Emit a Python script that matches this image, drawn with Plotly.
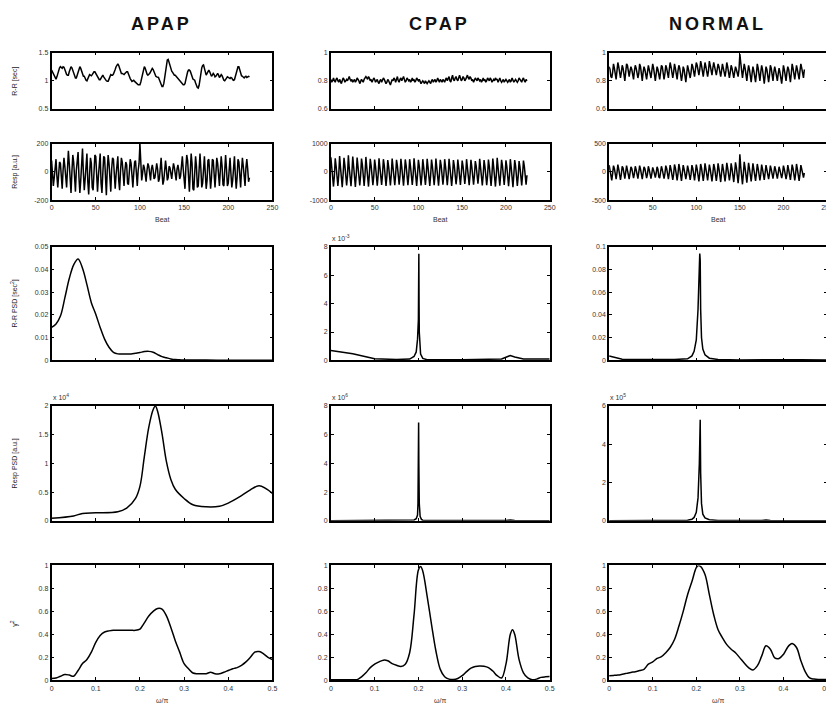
import plotly.graph_objects as go

# page body has an 8px margin, so the figure is placed 8px in from the window corner
OFF = 8
W, H = 834 - OFF, 709 - OFF

# ---------------- data ----------------
BEATS = list(range(225))

APAP_RR = [
1.19,1.16,1.12,1.08,1.05,1.03,1.07,1.13,1.19,1.23,
1.25,1.24,1.22,1.25,1.24,1.20,1.15,1.11,1.10,1.10,
1.16,1.22,1.25,1.23,1.18,1.12,1.07,1.05,1.05,1.10,
1.17,1.23,1.25,1.22,1.16,1.10,1.08,1.08,1.04,1.01,
1.00,1.04,1.09,1.11,1.10,1.09,1.11,1.14,1.16,1.16,
1.13,1.09,1.06,1.03,1.02,1.02,1.05,1.09,1.10,1.07,
1.04,1.01,1.00,0.99,0.99,1.03,1.08,1.11,1.10,1.10,
1.12,1.15,1.20,1.25,1.29,1.30,1.27,1.22,1.16,1.13,
1.13,1.12,1.11,1.13,1.15,1.16,1.16,1.13,1.08,1.04,
1.01,0.99,1.00,1.01,0.99,0.97,0.95,0.94,0.93,0.93,
0.93,0.98,1.06,1.15,1.22,1.25,1.22,1.16,1.12,1.10,
1.11,1.13,1.16,1.20,1.22,1.20,1.15,1.11,1.08,1.07,
1.07,1.06,1.02,0.97,0.93,0.90,0.90,0.95,1.05,1.18,
1.30,1.37,1.38,1.33,1.25,1.20,1.17,1.15,1.12,1.10,
1.10,1.08,1.06,1.04,1.03,1.02,1.00,0.97,0.95,0.93,
0.93,0.95,1.02,1.10,1.16,1.19,1.19,1.17,1.12,1.07,
1.03,1.02,1.01,0.96,0.91,0.88,0.87,0.92,1.02,1.14,
1.23,1.27,1.28,1.22,1.14,1.10,1.13,1.17,1.19,1.16,
1.11,1.08,1.10,1.13,1.11,1.07,1.08,1.12,1.13,1.10,
1.06,1.08,1.11,1.09,1.04,1.01,1.00,1.02,1.05,1.07,
1.06,1.05,1.04,1.06,1.05,1.02,1.01,1.02,1.07,1.14,
1.21,1.25,1.25,1.20,1.13,1.09,1.08,1.06,1.05,1.07,
1.08,1.06,1.07,1.08,1.07]

APAP_RESP = [
80,-20,-100,-40,60,90,-30,-110,-20,70,
60,-60,-120,10,100,40,-80,-110,20,150,
60,-90,-150,0,120,70,-70,-140,10,110,
140,-40,-150,-60,90,165,-10,-130,-50,80,
130,-70,-160,-20,100,60,-110,-130,30,120,
110,-50,-140,-30,90,130,-80,-150,-10,110,
100,-90,-165,10,120,60,-100,-140,20,100,
90,-70,-120,-20,80,110,-60,-130,0,100,
70,-60,-100,10,70,50,-80,-90,20,90,
60,-50,-110,-10,70,80,-40,-100,10,60,
200,40,-60,-10,50,30,-50,-70,10,60,
40,-40,-60,20,50,10,-50,-40,30,60,
20,-70,-50,60,100,0,-90,-60,40,80,
20,-60,-40,40,30,-20,-50,10,60,30,
-40,-60,20,50,10,-50,-30,40,110,20,
-90,-120,30,120,80,-100,-140,0,130,60,
-120,-130,40,110,40,-110,-100,60,130,20,
-110,-80,70,110,-10,-120,-60,80,90,-30,
-120,-40,90,80,-50,-110,-10,100,60,-60,
-100,10,110,40,-90,-100,30,120,20,-100,
-80,50,100,-10,-110,-60,80,110,-20,-120,
-40,90,70,-60,-110,10,100,40,-80,-100,
30,90,20,-70,-40]

CPAP_RR = [
.81,.79,.80,.82,.80,.79,.81,.82,.80,.79,
.81,.80,.78,.80,.82,.81,.79,.80,.81,.80,
.82,.83,.81,.80,.81,.79,.80,.81,.79,.80,
.82,.81,.80,.78,.79,.81,.80,.79,.81,.82,
.83,.82,.81,.83,.82,.80,.81,.79,.80,.82,
.81,.79,.80,.81,.79,.78,.80,.81,.79,.80,
.82,.81,.79,.78,.79,.81,.80,.79,.77,.79,
.81,.80,.82,.81,.79,.81,.83,.80,.79,.81,
.82,.80,.81,.83,.81,.79,.80,.82,.81,.80,
.81,.79,.80,.82,.80,.81,.79,.80,.82,.81,
.80,.81,.79,.78,.79,.80,.79,.78,.80,.79,
.78,.79,.80,.79,.78,.80,.81,.79,.80,.81,
.79,.80,.82,.80,.79,.81,.80,.79,.81,.80,
.79,.81,.82,.80,.81,.83,.80,.79,.82,.84,
.81,.80,.82,.83,.81,.80,.82,.84,.82,.80,
.81,.83,.82,.80,.81,.83,.84,.82,.81,.83,
.82,.80,.81,.79,.80,.82,.81,.80,.82,.81,
.80,.81,.79,.80,.82,.80,.81,.79,.80,.82,
.81,.80,.82,.81,.79,.80,.81,.80,.82,.81,
.81,.79,.80,.82,.80,.79,.80,.81,.79,.80,
.81,.80,.79,.80,.81,.79,.80,.82,.81,.79,
.80,.81,.80,.79,.80,.82,.81,.80,.79,.81,
.82,.80,.79,.81,.80]

CPAP_RESP = [
520,180,-380,-520,-150,480,210,-350,-500,-120,
560,160,-400,-540,-90,500,230,-330,-480,-140,
590,140,-420,-510,-60,540,200,-360,-530,-110,
510,190,-380,-480,-130,470,250,-340,-500,-100,
530,170,-390,-520,-80,460,220,-310,-470,-150,
440,200,-350,-490,-120,480,170,-370,-460,-90,
450,230,-320,-500,-140,420,190,-360,-480,-110,
470,160,-340,-470,-100,430,210,-300,-450,-130,
460,180,-370,-490,-80,440,220,-330,-470,-120,
450,190,-350,-460,-110,480,160,-360,-500,-90,
430,210,-320,-480,-140,450,180,-340,-460,-100,
460,170,-360,-500,-120,440,200,-330,-470,-110,
470,150,-350,-490,-90,430,230,-310,-450,-130,
450,190,-340,-470,-100,460,170,-370,-500,-120,
420,210,-300,-440,-150,440,180,-330,-460,-80,
400,200,-280,-430,-100,450,150,-340,-470,-110,
430,180,-310,-450,-130,380,210,-290,-420,-90,
460,160,-330,-480,-120,420,190,-310,-470,-140,
440,200,-350,-500,-100,470,170,-360,-520,-120,
500,150,-340,-490,-80,430,220,-300,-460,-110,
410,190,-360,-510,-130,450,160,-380,-540,-100,
420,210,-330,-500,-150,380,180,-350,-480,-90,
400,200,-320,-450,-120]

NORMAL_RR = [
.90,.88,.83,.82,.86,.92,.89,.84,.81,.87,
.93,.90,.84,.82,.86,.91,.89,.83,.80,.86,
.92,.91,.85,.83,.87,.90,.88,.82,.81,.87,
.91,.89,.84,.82,.85,.92,.90,.83,.80,.86,
.90,.88,.83,.81,.86,.91,.88,.84,.82,.87,
.92,.89,.83,.80,.85,.90,.88,.82,.81,.86,
.91,.90,.84,.81,.85,.91,.89,.83,.82,.88,
.93,.90,.85,.82,.86,.92,.89,.84,.81,.87,
.91,.89,.83,.80,.84,.90,.88,.82,.79,.85,
.91,.88,.84,.82,.86,.92,.90,.85,.83,.88,
.93,.91,.86,.84,.88,.94,.91,.86,.83,.88,
.93,.90,.85,.83,.87,.94,.91,.86,.84,.89,
.93,.90,.86,.84,.88,.92,.90,.85,.83,.87,
.92,.89,.85,.83,.87,.93,.90,.84,.82,.86,
.91,.89,.84,.82,.86,.90,.88,.84,.83,.88,
.99,.93,.86,.82,.87,.92,.89,.83,.80,.86,
.91,.88,.82,.79,.85,.90,.87,.81,.79,.85,
.92,.89,.83,.80,.86,.91,.88,.82,.78,.84,
.90,.88,.82,.79,.84,.91,.89,.83,.80,.86,
.90,.87,.82,.80,.85,.89,.86,.81,.78,.84,
.91,.88,.83,.80,.86,.90,.88,.82,.79,.85,
.92,.89,.83,.81,.86,.91,.88,.83,.81,.87,
.92,.89,.84,.82,.88]

NORMAL_RESP = [
120,40,-110,-150,-30,110,60,-100,-130,-20,
130,50,-90,-140,-40,100,70,-80,-120,-10,
110,30,-100,-130,-20,90,60,-90,-110,-30,
100,40,-80,-120,-10,110,50,-100,-130,-20,
90,60,-90,-110,-40,100,40,-80,-120,-30,
80,30,-70,-100,-20,90,50,-90,-110,-10,
100,40,-80,-120,-30,110,60,-100,-130,-20,
120,50,-90,-140,-40,130,70,-110,-150,-30,
140,60,-100,-160,-20,120,50,-90,-130,-30,
110,40,-100,-140,-40,120,60,-110,-150,-20,
130,50,-120,-170,-30,140,70,-110,-160,-40,
150,60,-100,-150,-20,130,50,-120,-170,-30,
140,70,-110,-160,-40,150,60,-130,-180,-20,
140,50,-120,-170,-30,160,70,-110,-150,-40,
150,60,-120,-180,-20,170,80,-140,-200,-30,
310,90,-150,-220,-40,180,70,-130,-190,-30,
160,60,-120,-170,-20,150,50,-110,-160,-30,
140,60,-100,-150,-40,130,50,-90,-140,-20,
120,40,-90,-130,-30,110,50,-80,-120,-20,
100,40,-80,-120,-20,90,30,-70,-110,-30,
110,50,-90,-130,-40,120,40,-100,-140,-20,
130,60,-110,-150,-30,140,50,-120,-160,-40,
120,50,-80,-100,-20]

# spectra (frequency in cycles/beat)
APAP_RR_PSD_F = [0,.01,.02,.03,.04,.05,.06,.07,.08,.09,.10,.11,.12,.13,.14,.15,.16,.17,.18,.19,.20,.21,.22,.23,.24,.25,.26,.27,.28,.29,.30,.35,.40,.45,.50]
APAP_RR_PSD = [.0145,.016,.0195,.0275,.036,.042,.0446,.0405,.0333,.0254,.0203,.0145,.0094,.0058,.0036,.0029,.0028,.0029,.0029,.0032,.0035,.0039,.0040,.0036,.0026,.0017,.0012,.0007,.0004,.0003,.0002,.0002,.0001,.0001,.0001]

CPAP_RR_PSD_F = [0,.05,.10,.15,.18,.19,.195,.198,.200,.2005,.201,.2015,.202,.203,.205,.21,.22,.30,.39,.40,.41,.42,.43,.44,.50]
CPAP_RR_PSD = [.70,.47,.12,.07,.10,.28,.60,1.5,2.9,5.0,7.5,4.0,2.0,1.0,.45,.15,.06,.05,.10,.23,.35,.25,.15,.10,.10]

NORMAL_RR_PSD_F = [0,.01,.03,.05,.10,.15,.18,.19,.195,.200,.204,.207,.208,.209,.210,.212,.215,.22,.23,.25,.30,.40,.42,.44,.50]
NORMAL_RR_PSD = [.004,.003,.001,.0008,.0006,.0008,.0015,.004,.008,.018,.045,.080,.094,.088,.045,.020,.010,.005,.002,.0008,.0005,.0006,.0012,.0006,.0005]

APAP_RESP_PSD_F = [0,.05,.07,.10,.15,.17,.19,.20,.21,.22,.23,.235,.24,.25,.26,.27,.28,.30,.32,.35,.38,.40,.43,.45,.47,.50]
APAP_RESP_PSD = [.045,.085,.13,.14,.16,.22,.39,.60,1.12,1.63,1.94,2.0,1.91,1.52,1.03,.72,.55,.39,.28,.245,.255,.31,.44,.54,.61,.48]

CPAP_RESP_PSD_F = [0,.10,.18,.19,.195,.198,.199,.200,.2005,.201,.202,.204,.207,.21,.22,.30,.40,.41,.42,.50]
CPAP_RESP_PSD = [.01,.01,.02,.06,.15,.4,1.2,4.0,6.85,4.0,1.2,.3,.1,.05,.02,.01,.02,.06,.02,.01]

NORMAL_RESP_PSD_F = [0,.10,.18,.19,.195,.200,.204,.207,.208,.209,.210,.212,.215,.22,.23,.25,.35,.36,.37,.40,.50]
NORMAL_RESP_PSD = [.01,.01,.03,.08,.18,.45,1.2,3.0,4.8,5.28,2.5,.9,.35,.15,.06,.02,.02,.04,.02,.01,.01]

COH_F = [0,.01,.02,.03,.04,.05,.06,.07,.08,.09,.10,.11,.12,.13,.14,.15,.16,.17,.18,.19,.20,.205,.21,.22,.23,.24,.25,.26,.27,.28,.29,.30,.31,.32,.33,.34,.35,.36,.37,.38,.39,.40,.41,.415,.42,.43,.44,.45,.46,.47,.48,.49,.50]
APAP_COH = [.015,.02,.035,.05,.045,.035,.085,.145,.18,.245,.33,.39,.42,.43,.435,.435,.435,.435,.435,.435,.445,.47,.50,.56,.60,.625,.62,.56,.46,.345,.245,.145,.10,.063,.057,.057,.057,.07,.057,.057,.07,.085,.10,.105,.11,.13,.16,.20,.245,.25,.23,.20,.18]
CPAP_COH = [.005,.005,.005,.005,.005,.005,.005,.03,.065,.11,.14,.16,.175,.17,.145,.13,.12,.14,.24,.57,.96,.99,.95,.73,.485,.255,.095,.03,.01,.006,.015,.04,.075,.105,.12,.125,.122,.11,.08,.04,.02,.14,.40,.44,.40,.18,.065,.02,.005,.01,.025,.03,.032]
NORMAL_COH = [.04,.042,.045,.052,.06,.068,.075,.085,.095,.14,.16,.19,.205,.24,.285,.355,.47,.60,.745,.86,.98,1.0,.99,.92,.745,.57,.44,.37,.31,.27,.24,.195,.15,.11,.09,.125,.21,.30,.27,.195,.19,.225,.29,.31,.32,.285,.17,.075,.02,.01,.006,.006,.006]

# axis settings
COL_TITLES = ["APAP", "CPAP", "NORMAL"]
BEAT_TICKS = [0, 50, 100, 150, 200, 250]
FREQ_TICKS = [0, 0.1, 0.2, 0.3, 0.4, 0.5]
FREQ_TICKTEXT = ["0", "0.1", "0.2", "0.3", "0.4", "0.5"]

Y_TICKS = {
    (0, 0): ([0.5, 1, 1.5], ["0.5", "1", "1.5"]),
    (0, 1): ([0.6, 0.8, 1], ["0.6", "0.8", "1"]),
    (0, 2): ([0.6, 0.8, 1], ["0.6", "0.8", "1"]),
    (1, 0): ([-200, 0, 200], ["-200", "0", "200"]),
    (1, 1): ([-1000, 0, 1000], ["-1000", "0", "1000"]),
    (1, 2): ([-500, 0, 500], ["-500", "0", "500"]),
    (2, 0): ([0, .01, .02, .03, .04, .05], ["0", "0.01", "0.02", "0.03", "0.04", "0.05"]),
    (2, 1): ([0, 2, 4, 6, 8], ["0", "2", "4", "6", "8"]),
    (2, 2): ([0, .02, .04, .06, .08, .1], ["0", "0.02", "0.04", "0.06", "0.08", "0.1"]),
    (3, 0): ([0, .5, 1, 1.5, 2], ["0", "0.5", "1", "1.5", "2"]),
    (3, 1): ([0, 2, 4, 6, 8], ["0", "2", "4", "6", "8"]),
    (3, 2): ([0, 2, 4, 6], ["0", "2", "4", "6"]),
    (4, 0): ([0, .2, .4, .6, .8, 1], ["0", "0.2", "0.4", "0.6", "0.8", "1"]),
    (4, 1): ([0, .2, .4, .6, .8, 1], ["0", "0.2", "0.4", "0.6", "0.8", "1"]),
    (4, 2): ([0, .2, .4, .6, .8, 1], ["0", "0.2", "0.4", "0.6", "0.8", "1"]),
}
Y_RANGES = {
    (0, 0): [0.5, 1.5], (0, 1): [0.6, 1], (0, 2): [0.6, 1],
    (1, 0): [-200, 200], (1, 1): [-1000, 1000], (1, 2): [-500, 500],
    (2, 0): [0, 0.05], (2, 1): [0, 8], (2, 2): [0, 0.1],
    (3, 0): [0, 2], (3, 1): [0, 8], (3, 2): [0, 6],
    (4, 0): [0, 1], (4, 1): [0, 1], (4, 2): [0, 1],
}
ROW_LABELS = ["R-R [sec]", "Resp [a.u.]", "R-R PSD [sec<sup>2</sup>]", "Resp PSD [a.u.]", "γ<sup>2</sup>"]
EXPONENTS = {(2, 1): "-3", (3, 0): "4", (3, 1): "6", (3, 2): "5"}

SERIES = {
    (0, 0): (BEATS, APAP_RR), (0, 1): (BEATS, CPAP_RR), (0, 2): (BEATS, NORMAL_RR),
    (1, 0): (BEATS, APAP_RESP), (1, 1): (BEATS, CPAP_RESP), (1, 2): (BEATS, NORMAL_RESP),
    (2, 0): (APAP_RR_PSD_F, APAP_RR_PSD), (2, 1): (CPAP_RR_PSD_F, CPAP_RR_PSD), (2, 2): (NORMAL_RR_PSD_F, NORMAL_RR_PSD),
    (3, 0): (APAP_RESP_PSD_F, APAP_RESP_PSD), (3, 1): (CPAP_RESP_PSD_F, CPAP_RESP_PSD), (3, 2): (NORMAL_RESP_PSD_F, NORMAL_RESP_PSD),
    (4, 0): (COH_F, APAP_COH), (4, 1): (COH_F, CPAP_COH), (4, 2): (COH_F, NORMAL_COH),
}
SMOOTH = {(2, 0), (3, 0), (4, 0), (4, 1), (4, 2)}

# ---------------- layout geometry (window pixels) ----------------
ROW_PX = [(49, 106), (141, 198), (245, 360), (406, 522), (567, 683)]
COL_PX = [(50, 273), (332, 553), (613, 833)]

def xf(px):
    return (px - OFF) / W

def yf(px):
    return 1 - (px - OFF) / H

FONT = "Liberation Sans, Arial, sans-serif"
fig = go.Figure()
layout = dict(
    width=W, height=H, margin=dict(l=0, r=0, t=0, b=0),
    paper_bgcolor="white", plot_bgcolor="white", showlegend=False,
    font=dict(family=FONT, color="#222", size=7),
)
annotations = []
TICKFONT = dict(size=7, color="#333", family=FONT)

for r in range(5):
    for c in range(3):
        idx = r * 3 + c + 1
        xs = "x" if idx == 1 else f"x{idx}"
        ys = "y" if idx == 1 else f"y{idx}"
        xa = "xaxis" if idx == 1 else f"xaxis{idx}"
        ya = "yaxis" if idx == 1 else f"yaxis{idx}"
        x_, y_ = SERIES[(r, c)]
        fig.add_trace(go.Scatter(
            x=x_, y=y_, mode="lines", xaxis=xs, yaxis=ys,
            line=dict(color="black", width=1.5,
                      shape="spline" if (r, c) in SMOOTH else "linear"),
            hoverinfo="skip"))
        is_beat = r < 2
        common = dict(showline=True, linecolor="black", linewidth=1.8, mirror="ticks",
                      ticks="inside", ticklen=3, tickwidth=1.2, tickcolor="black",
                      showgrid=False, zeroline=False, tickfont=TICKFONT)
        layout[xa] = dict(
            domain=[xf(COL_PX[c][0]), min(1.0, xf(COL_PX[c][1]))], anchor=ys,
            range=[0, 250] if is_beat else [0, 0.5],
            tickmode="array",
            tickvals=BEAT_TICKS if is_beat else FREQ_TICKS,
            ticktext=[str(v) for v in BEAT_TICKS] if is_beat else FREQ_TICKTEXT,
            showticklabels=(r in (1, 4)), **common)
        tv, tt = Y_TICKS[(r, c)]
        layout[ya] = dict(
            domain=[yf(ROW_PX[r][1]), yf(ROW_PX[r][0])], anchor=xs,
            range=Y_RANGES[(r, c)], tickmode="array", tickvals=tv, ticktext=tt,
            **common)
        if (r, c) in EXPONENTS:
            annotations.append(dict(
                x=xf(COL_PX[c][0] - 1), y=yf(ROW_PX[r][0] - 3), xref="paper", yref="paper",
                xanchor="left", yanchor="bottom", showarrow=False,
                text=f"x 10<sup>{EXPONENTS[(r, c)]}</sup>",
                font=dict(size=7, color="#333", family=FONT)))

# column titles and x-axis titles
for c, t in enumerate(COL_TITLES):
    annotations.append(dict(
        x=xf((COL_PX[c][0] + COL_PX[c][1]) / 2 - 1), y=yf(20), xref="paper", yref="paper",
        xanchor="center", yanchor="middle", showarrow=False,
        text=f"<b><span style='letter-spacing:3px'>{t}</span></b>",
        font=dict(size=18, color="#111", family=FONT)))
    annotations.append(dict(
        x=xf((COL_PX[c][0] + COL_PX[c][1]) / 2), y=yf(218), xref="paper", yref="paper",
        xanchor="center", yanchor="middle", showarrow=False, text="Beat",
        font=dict(size=7, color="#333", family=FONT)))
    annotations.append(dict(
        x=xf((COL_PX[c][0] + COL_PX[c][1]) / 2), y=yf(703), xref="paper", yref="paper",
        xanchor="center", yanchor="middle", showarrow=False, text="ω/π",
        font=dict(size=7, color="#333", family=FONT)))

# row labels (left column only)
for r, lab in enumerate(ROW_LABELS):
    annotations.append(dict(
        x=xf(13), y=yf((ROW_PX[r][0] + ROW_PX[r][1]) / 2), xref="paper", yref="paper",
        xanchor="center", yanchor="middle", showarrow=False, text=lab, textangle=-90,
        font=dict(size=7, color="#222", family=FONT)))

layout["annotations"] = annotations
fig.update_layout(**layout)
fig.write_html("out.html", config={"displayModeBar": False})
